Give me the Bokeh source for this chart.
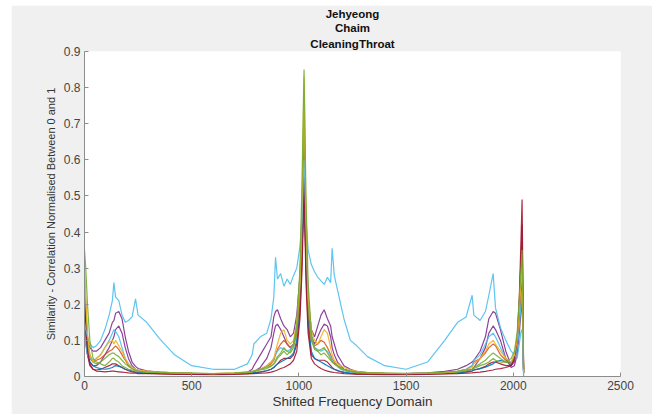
from bokeh.plotting import figure
from bokeh.models import Range1d, FixedTicker, Title
from bokeh.embed import file_html
from bokeh.resources import INLINE

# Shifted frequency bins (shared sample positions)
x_freq = [
    0, 6, 14, 25, 40, 55, 75, 95, 115, 130,
    137, 145, 160, 175, 190, 205, 222, 238, 250, 290,
    350, 420, 500, 600, 700, 760, 782, 790, 820, 850,
    870, 883, 891, 900, 915, 930, 945, 960, 975, 990,
    1005, 1015, 1021, 1024, 1027, 1033, 1043, 1058, 1073, 1088,
    1103, 1118, 1133, 1148, 1155, 1165, 1180, 1195, 1210, 1240,
    1270, 1320, 1400, 1500, 1600, 1680, 1740, 1780, 1808, 1816,
    1845, 1870, 1886, 1906, 1917, 1940, 1965, 1990, 2005, 2018,
    2028, 2036, 2041, 2045, 2048,
]

sim_blue1 = [
    0.16, 0.11, 0.07, 0.04, 0.03, 0.025, 0.022, 0.02, 0.022, 0.025,
    0.028, 0.03, 0.028, 0.025, 0.02, 0.018, 0.015, 0.013, 0.012, 0.01,
    0.009, 0.008, 0.007, 0.007, 0.008, 0.009, 0.01, 0.011, 0.013, 0.016,
    0.02, 0.025, 0.03, 0.035, 0.04, 0.045, 0.05, 0.055, 0.065, 0.10,
    0.20, 0.36, 0.52, 0.66, 0.50, 0.32, 0.16, 0.07, 0.05, 0.045,
    0.04, 0.035, 0.03, 0.025, 0.022, 0.02, 0.017, 0.014, 0.012, 0.01,
    0.009, 0.008, 0.007, 0.007, 0.008, 0.009, 0.011, 0.013, 0.016, 0.018,
    0.022, 0.026, 0.03, 0.035, 0.04, 0.045, 0.04, 0.035, 0.05, 0.09,
    0.16, 0.24, 0.30, 0.15, 0.01,
]
sim_orange1 = [
    0.25, 0.18, 0.09, 0.05, 0.04, 0.045, 0.05, 0.06, 0.07, 0.075,
    0.08, 0.085, 0.075, 0.06, 0.045, 0.03, 0.022, 0.018, 0.015, 0.012,
    0.01, 0.009, 0.008, 0.008, 0.009, 0.011, 0.013, 0.015, 0.02, 0.028,
    0.035, 0.045, 0.06, 0.075, 0.09, 0.10, 0.09, 0.08, 0.085, 0.12,
    0.22, 0.40, 0.60, 0.72, 0.58, 0.38, 0.18, 0.10, 0.085, 0.09,
    0.10, 0.095, 0.08, 0.06, 0.05, 0.04, 0.03, 0.025, 0.02, 0.015,
    0.012, 0.01, 0.008, 0.008, 0.009, 0.011, 0.014, 0.02, 0.03, 0.04,
    0.05, 0.065, 0.08, 0.09, 0.085, 0.06, 0.045, 0.035, 0.05, 0.09,
    0.17, 0.25, 0.29, 0.14, 0.01,
]
sim_yellow1 = [
    0.30, 0.22, 0.12, 0.06, 0.04, 0.05, 0.06, 0.08, 0.095, 0.10,
    0.09, 0.10, 0.085, 0.07, 0.05, 0.035, 0.025, 0.02, 0.018, 0.015,
    0.012, 0.01, 0.009, 0.008, 0.01, 0.012, 0.014, 0.016, 0.02, 0.03,
    0.04, 0.05, 0.07, 0.09, 0.12, 0.13, 0.10, 0.09, 0.10, 0.15,
    0.26, 0.50, 0.72, 0.83, 0.70, 0.45, 0.22, 0.13, 0.10, 0.09,
    0.11, 0.13, 0.12, 0.08, 0.06, 0.045, 0.035, 0.03, 0.025, 0.018,
    0.014, 0.011, 0.009, 0.008, 0.009, 0.011, 0.014, 0.018, 0.025, 0.035,
    0.05, 0.07, 0.09, 0.10, 0.09, 0.07, 0.05, 0.04, 0.06, 0.10,
    0.18, 0.26, 0.30, 0.15, 0.01,
]
sim_purple1 = [
    0.20, 0.15, 0.10, 0.08, 0.07, 0.07, 0.08, 0.10, 0.12, 0.15,
    0.155, 0.175, 0.18, 0.16, 0.11, 0.07, 0.04, 0.028, 0.022, 0.016,
    0.012, 0.01, 0.009, 0.008, 0.009, 0.012, 0.02, 0.03, 0.06, 0.09,
    0.11, 0.165, 0.18, 0.185, 0.16, 0.14, 0.13, 0.11, 0.12, 0.17,
    0.28, 0.42, 0.55, 0.62, 0.52, 0.38, 0.22, 0.13, 0.11, 0.14,
    0.17, 0.185, 0.16, 0.14, 0.11, 0.09, 0.06, 0.045, 0.03, 0.02,
    0.014, 0.011, 0.009, 0.008, 0.01, 0.014, 0.02, 0.03, 0.04, 0.045,
    0.07, 0.11, 0.16, 0.18, 0.175, 0.13, 0.07, 0.03, 0.04, 0.08,
    0.16, 0.24, 0.28, 0.14, 0.01,
]
sim_green1 = [
    0.35, 0.30, 0.20, 0.10, 0.05, 0.04, 0.035, 0.03, 0.04, 0.05,
    0.05, 0.045, 0.04, 0.03, 0.025, 0.02, 0.018, 0.015, 0.014, 0.012,
    0.012, 0.01, 0.01, 0.008, 0.01, 0.012, 0.014, 0.015, 0.02, 0.025,
    0.03, 0.035, 0.04, 0.05, 0.06, 0.07, 0.06, 0.07, 0.09, 0.14,
    0.30, 0.55, 0.76, 0.85, 0.74, 0.50, 0.26, 0.12, 0.08, 0.07,
    0.06, 0.065, 0.055, 0.045, 0.04, 0.035, 0.03, 0.025, 0.02, 0.015,
    0.012, 0.01, 0.01, 0.009, 0.01, 0.012, 0.015, 0.018, 0.02, 0.022,
    0.03, 0.035, 0.04, 0.05, 0.045, 0.04, 0.04, 0.05, 0.07, 0.12,
    0.22, 0.30, 0.35, 0.20, 0.02,
]
sim_cyan1 = [
    0.15, 0.13, 0.11, 0.09, 0.08, 0.085, 0.10, 0.13, 0.17, 0.21,
    0.26, 0.22, 0.21, 0.17, 0.15, 0.155, 0.165, 0.215, 0.17, 0.15,
    0.105, 0.06, 0.03, 0.02, 0.02, 0.035, 0.06, 0.09, 0.11, 0.12,
    0.16, 0.22, 0.33, 0.27, 0.285, 0.25, 0.27, 0.255, 0.28, 0.30,
    0.36, 0.45, 0.56, 0.60, 0.55, 0.44, 0.35, 0.31, 0.29, 0.275,
    0.265, 0.255, 0.275, 0.26, 0.355, 0.28, 0.24, 0.20, 0.16, 0.10,
    0.085, 0.055, 0.03, 0.02, 0.04, 0.10, 0.15, 0.165, 0.225, 0.17,
    0.155, 0.18, 0.225, 0.285, 0.19, 0.135, 0.10, 0.07, 0.06, 0.05,
    0.09, 0.125, 0.13, 0.08, 0.0,
]
sim_red1 = [
    0.21, 0.14, 0.07, 0.035, 0.02, 0.015, 0.014, 0.013, 0.014, 0.015,
    0.015, 0.014, 0.013, 0.012, 0.011, 0.01, 0.009, 0.009, 0.008, 0.008,
    0.007, 0.006, 0.006, 0.005, 0.006, 0.007, 0.008, 0.008, 0.009, 0.01,
    0.012, 0.014, 0.016, 0.018, 0.022, 0.025, 0.03, 0.035, 0.045, 0.07,
    0.16, 0.30, 0.45, 0.55, 0.44, 0.26, 0.12, 0.05, 0.035, 0.028,
    0.022, 0.018, 0.015, 0.013, 0.012, 0.011, 0.01, 0.009, 0.008, 0.007,
    0.006, 0.006, 0.005, 0.005, 0.006, 0.007, 0.008, 0.009, 0.01, 0.011,
    0.012, 0.014, 0.016, 0.018, 0.02, 0.022, 0.025, 0.03, 0.05, 0.10,
    0.22, 0.38, 0.49, 0.25, 0.02,
]
sim_purple2 = [
    0.12, 0.09, 0.06, 0.04, 0.03, 0.03, 0.04, 0.06, 0.08, 0.10,
    0.11, 0.13, 0.14, 0.12, 0.08, 0.05, 0.03, 0.02, 0.016, 0.012,
    0.01, 0.008, 0.007, 0.007, 0.008, 0.01, 0.012, 0.014, 0.025, 0.05,
    0.08, 0.12, 0.14, 0.145, 0.13, 0.11, 0.09, 0.08, 0.09, 0.13,
    0.24, 0.36, 0.46, 0.50, 0.44, 0.32, 0.18, 0.11, 0.09, 0.11,
    0.13, 0.145, 0.14, 0.11, 0.08, 0.06, 0.04, 0.03, 0.02, 0.014,
    0.011, 0.009, 0.008, 0.007, 0.008, 0.01, 0.013, 0.016, 0.02, 0.025,
    0.05, 0.08, 0.12, 0.14, 0.13, 0.10, 0.05, 0.025, 0.03, 0.06,
    0.12, 0.18, 0.22, 0.10, 0.01,
]
sim_green2 = [
    0.28, 0.20, 0.11, 0.06, 0.04, 0.035, 0.04, 0.05, 0.06, 0.065,
    0.065, 0.06, 0.055, 0.045, 0.035, 0.028, 0.022, 0.018, 0.015, 0.012,
    0.01, 0.009, 0.008, 0.008, 0.009, 0.01, 0.012, 0.014, 0.018, 0.022,
    0.028, 0.035, 0.045, 0.055, 0.065, 0.08, 0.07, 0.065, 0.08, 0.12,
    0.25, 0.46, 0.66, 0.78, 0.64, 0.42, 0.20, 0.10, 0.075, 0.07,
    0.075, 0.08, 0.065, 0.05, 0.04, 0.035, 0.028, 0.022, 0.018, 0.014,
    0.011, 0.009, 0.008, 0.008, 0.009, 0.01, 0.012, 0.016, 0.02, 0.025,
    0.035, 0.045, 0.055, 0.065, 0.06, 0.05, 0.04, 0.035, 0.06, 0.11,
    0.20, 0.28, 0.33, 0.17, 0.01,
]
sim_cyan2 = [
    0.12, 0.09, 0.06, 0.05, 0.045, 0.05, 0.06, 0.08, 0.10, 0.12,
    0.13, 0.125, 0.11, 0.08, 0.05, 0.035, 0.025, 0.02, 0.016, 0.012,
    0.01, 0.009, 0.008, 0.008, 0.009, 0.011, 0.013, 0.015, 0.02, 0.03,
    0.04, 0.05, 0.06, 0.07, 0.08, 0.075, 0.07, 0.075, 0.09, 0.14,
    0.26, 0.40, 0.52, 0.58, 0.50, 0.38, 0.22, 0.11, 0.08, 0.075,
    0.07, 0.075, 0.07, 0.055, 0.045, 0.035, 0.028, 0.02, 0.016, 0.012,
    0.01, 0.009, 0.008, 0.008, 0.009, 0.011, 0.014, 0.02, 0.03, 0.045,
    0.06, 0.09, 0.11, 0.12, 0.11, 0.08, 0.05, 0.04, 0.05, 0.08,
    0.14, 0.20, 0.24, 0.12, 0.0,
]
sim_red2 = [
    0.18, 0.12, 0.06, 0.03, 0.02, 0.018, 0.02, 0.025, 0.03, 0.035,
    0.035, 0.035, 0.03, 0.025, 0.02, 0.016, 0.013, 0.011, 0.01, 0.009,
    0.008, 0.007, 0.006, 0.006, 0.007, 0.008, 0.009, 0.01, 0.012, 0.016,
    0.02, 0.025, 0.03, 0.035, 0.045, 0.05, 0.05, 0.05, 0.06, 0.09,
    0.18, 0.34, 0.50, 0.62, 0.48, 0.30, 0.14, 0.06, 0.05, 0.045,
    0.045, 0.045, 0.04, 0.03, 0.025, 0.02, 0.016, 0.013, 0.011, 0.009,
    0.008, 0.007, 0.006, 0.006, 0.007, 0.008, 0.01, 0.012, 0.015, 0.018,
    0.022, 0.028, 0.035, 0.04, 0.04, 0.035, 0.03, 0.03, 0.05, 0.10,
    0.20, 0.33, 0.42, 0.20, 0.01,
]

# drawing order (later lines on top)
series_values = [sim_red2, sim_purple2, sim_blue1, sim_orange1, sim_purple1,
                 sim_cyan2, sim_green2, sim_red1, sim_cyan1, sim_yellow1, sim_green1]
series_colors = ["#A2142F", "#7E2F8E", "#0072BD", "#D95319", "#7E2F8E",
                 "#4DBEEE", "#77AC30", "#A2142F", "#4DBEEE", "#EDB120", "#77AC30"]

title_lines = ["Jehyeong", "Chaim", "CleaningThroat"]
x_label = "Shifted Frequency Domain"
y_label = "Similarity - Correlation Normalised Between 0 and 1"
x_ticks = [0, 500, 1000, 1500, 2000, 2500]
x_tick_labels = ["0", "500", "1000", "1500", "2000", "2500"]
y_ticks = [0, 0.1, 0.2, 0.3, 0.4, 0.5, 0.6, 0.7, 0.8, 0.9]
y_tick_labels = ["0", "0.1", "0.2", "0.3", "0.4", "0.5", "0.6", "0.7", "0.8", "0.9"]

FONT = "Liberation Sans"
BG = "#f0f0f0"

p = figure(
    frame_width=536, frame_height=325,
    min_border_left=73, min_border_right=32, min_border_top=45, min_border_bottom=39,
    x_range=Range1d(0, 2500), y_range=Range1d(0, 0.9),
    output_backend="svg", toolbar_location=None, title=None,
    background_fill_color="white", border_fill_color=BG,
    outline_line_color=None,
)
p.margin = (5, 0, 0, 11)

for vals, col in zip(series_values, series_colors):
    p.line(x_freq, vals, line_color=col, line_width=1.2, line_alpha=0.9)

for i, t in enumerate(reversed(title_lines)):
    p.add_layout(Title(text=t, align="center", text_font=FONT, text_font_size="11.5px",
                       text_font_style="bold", text_color="#111111",
                       standoff=(4 if i == 0 else 0), offset=0), "above")

p.grid.visible = False

p.xaxis.ticker = FixedTicker(ticks=x_ticks)
p.xaxis.major_label_overrides = dict(zip(x_ticks, x_tick_labels))
p.yaxis.ticker = FixedTicker(ticks=y_ticks)
p.yaxis.major_label_overrides = dict(zip(y_ticks, y_tick_labels))
p.xaxis.axis_label = x_label
p.yaxis.axis_label = y_label

for ax in (p.xaxis[0], p.yaxis[0]):
    ax.axis_line_color = "#8c8c8c"
    ax.major_tick_line_color = "#8c8c8c"
    ax.major_tick_in = 4
    ax.major_tick_out = 0
    ax.minor_tick_line_color = None
    ax.major_label_text_font = FONT
    ax.major_label_text_font_size = "12px"
    ax.major_label_text_color = "#444444"
    ax.major_label_standoff = 4
    ax.axis_label_text_font = FONT
    ax.axis_label_text_font_style = "normal"
    ax.axis_label_text_color = "#333333"
    ax.axis_label_standoff = 4

p.xaxis.axis_label_text_font_size = "13.5px"
p.xaxis.axis_label_standoff = 1
p.yaxis.axis_label_text_font_size = "11px"

open("out.html", "w").write(file_html(p, INLINE))
